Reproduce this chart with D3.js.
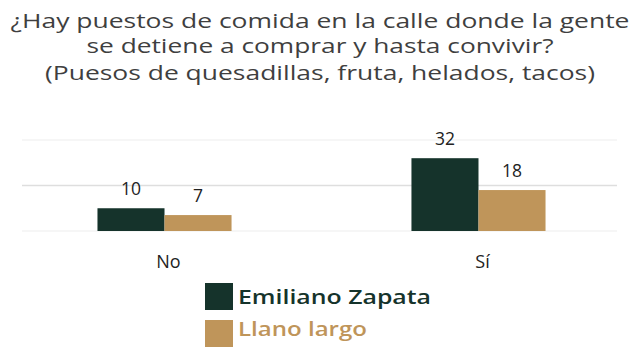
<!DOCTYPE html>
<html>
<head>
<meta charset="utf-8">
<script src="https://cdn.jsdelivr.net/npm/d3@7"></script>
<style>
  html, body { margin: 0; padding: 0; background: #fff; }
  svg { display: block; }
</style>
</head>
<body>
<svg id="chart" width="639" height="352"></svg>
<script>
// ---- data ----
const titleLines = [
  "¿Hay puestos de comida en la calle donde la gente",
  "se detiene a comprar y hasta convivir?",
  "(Puesos de quesadillas, fruta, helados, tacos)"
];
const categories = ["No", "Sí"];
const seriesNames = ["Emiliano Zapata", "Llano largo"];
const emilianoZapata = [10, 32];
const llanoLargo = [7, 18];
const gridTicks = [0, 20, 40];

// ---- layout ----
const W = 639, H = 352;
const colors = ["#15332b", "#bf955a"];
const font = "'Open Sans', 'Noto Sans', sans-serif";
const svg = d3.select("#chart");

const x0 = d3.scaleBand().domain(categories).range([24, 619]).paddingInner(0.573).paddingOuter(0.234);
const x1 = d3.scaleBand().domain(seriesNames).range([0, x0.bandwidth()]).padding(0);
const y = d3.scaleLinear().domain([0, 40]).range([231, 140]);

function fit(sel, w) {
  sel.attr("textLength", w).attr("lengthAdjust", "spacingAndGlyphs");
}

// title
const titleBase = [27.5, 53.3, 79.5];
const titleW = [619, 467, 550];
titleLines.forEach((t, i) => {
  svg.append("text")
    .attr("x", 320).attr("y", titleBase[i])
    .attr("text-anchor", "middle")
    .attr("font-family", font).attr("font-size", 19.5).attr("font-weight", 500)
    .attr("fill", "#3f3f3f")
    .text(t)
    .call(fit, titleW[i]);
});

// gridlines
svg.append("g").selectAll("line").data(gridTicks).join("line")
  .attr("x1", 22).attr("x2", 617)
  .attr("y1", d => y(d)).attr("y2", d => y(d))
  .attr("stroke", d => d === 20 ? "#dedede" : "#f3f3f3")
  .attr("stroke-width", 1.5);

// bars
const rows = categories.map((c, i) => ({ cat: c, vals: [emilianoZapata[i], llanoLargo[i]] }));
const groups = svg.append("g").selectAll("g").data(rows).join("g")
  .attr("transform", d => `translate(${x0(d.cat)},0)`);

groups.selectAll("rect").data(d => d.vals.map((v, j) => ({ s: seriesNames[j], v, j }))).join("rect")
  .attr("x", d => x1(d.s)).attr("width", x1.bandwidth())
  .attr("y", d => y(d.v)).attr("height", d => y(0) - y(d.v))
  .attr("fill", d => colors[d.j]);

groups.selectAll("text.val").data(d => d.vals.map((v, j) => ({ s: seriesNames[j], v, j }))).join("text")
  .attr("class", "val")
  .attr("x", d => x1(d.s) + x1.bandwidth() / 2)
  .attr("y", d => y(d.v) - 13)
  .attr("text-anchor", "middle")
  .attr("font-family", font).attr("font-size", 17.5).attr("font-weight", 500)
  .attr("fill", "#222")
  .text(d => d.v);

// category labels
svg.append("g").selectAll("text").data(categories).join("text")
  .attr("x", d => x0(d) + x0.bandwidth() / 2 + 4)
  .attr("y", 267.5)
  .attr("text-anchor", "middle")
  .attr("font-family", font).attr("font-size", 18).attr("font-weight", 500)
  .attr("fill", "#222")
  .text(d => d);

// legend
const legY = [283, 320];
const legW = [193, 129];
const leg = svg.append("g").selectAll("g").data(seriesNames).join("g")
  .attr("transform", (d, i) => `translate(205,${legY[i]})`);
leg.append("rect").attr("width", 28).attr("height", 27).attr("fill", (d, i) => colors[i]);
leg.append("text")
  .attr("x", 33).attr("y", (d, i) => i === 0 ? 20.5 : 15.5)
  .attr("font-family", font).attr("font-size", 19).attr("font-weight", 600)
  .attr("fill", (d, i) => colors[i])
  .text(d => d)
  .each(function(d, i) { d3.select(this).call(fit, legW[i]); });
</script>
</body>
</html>
